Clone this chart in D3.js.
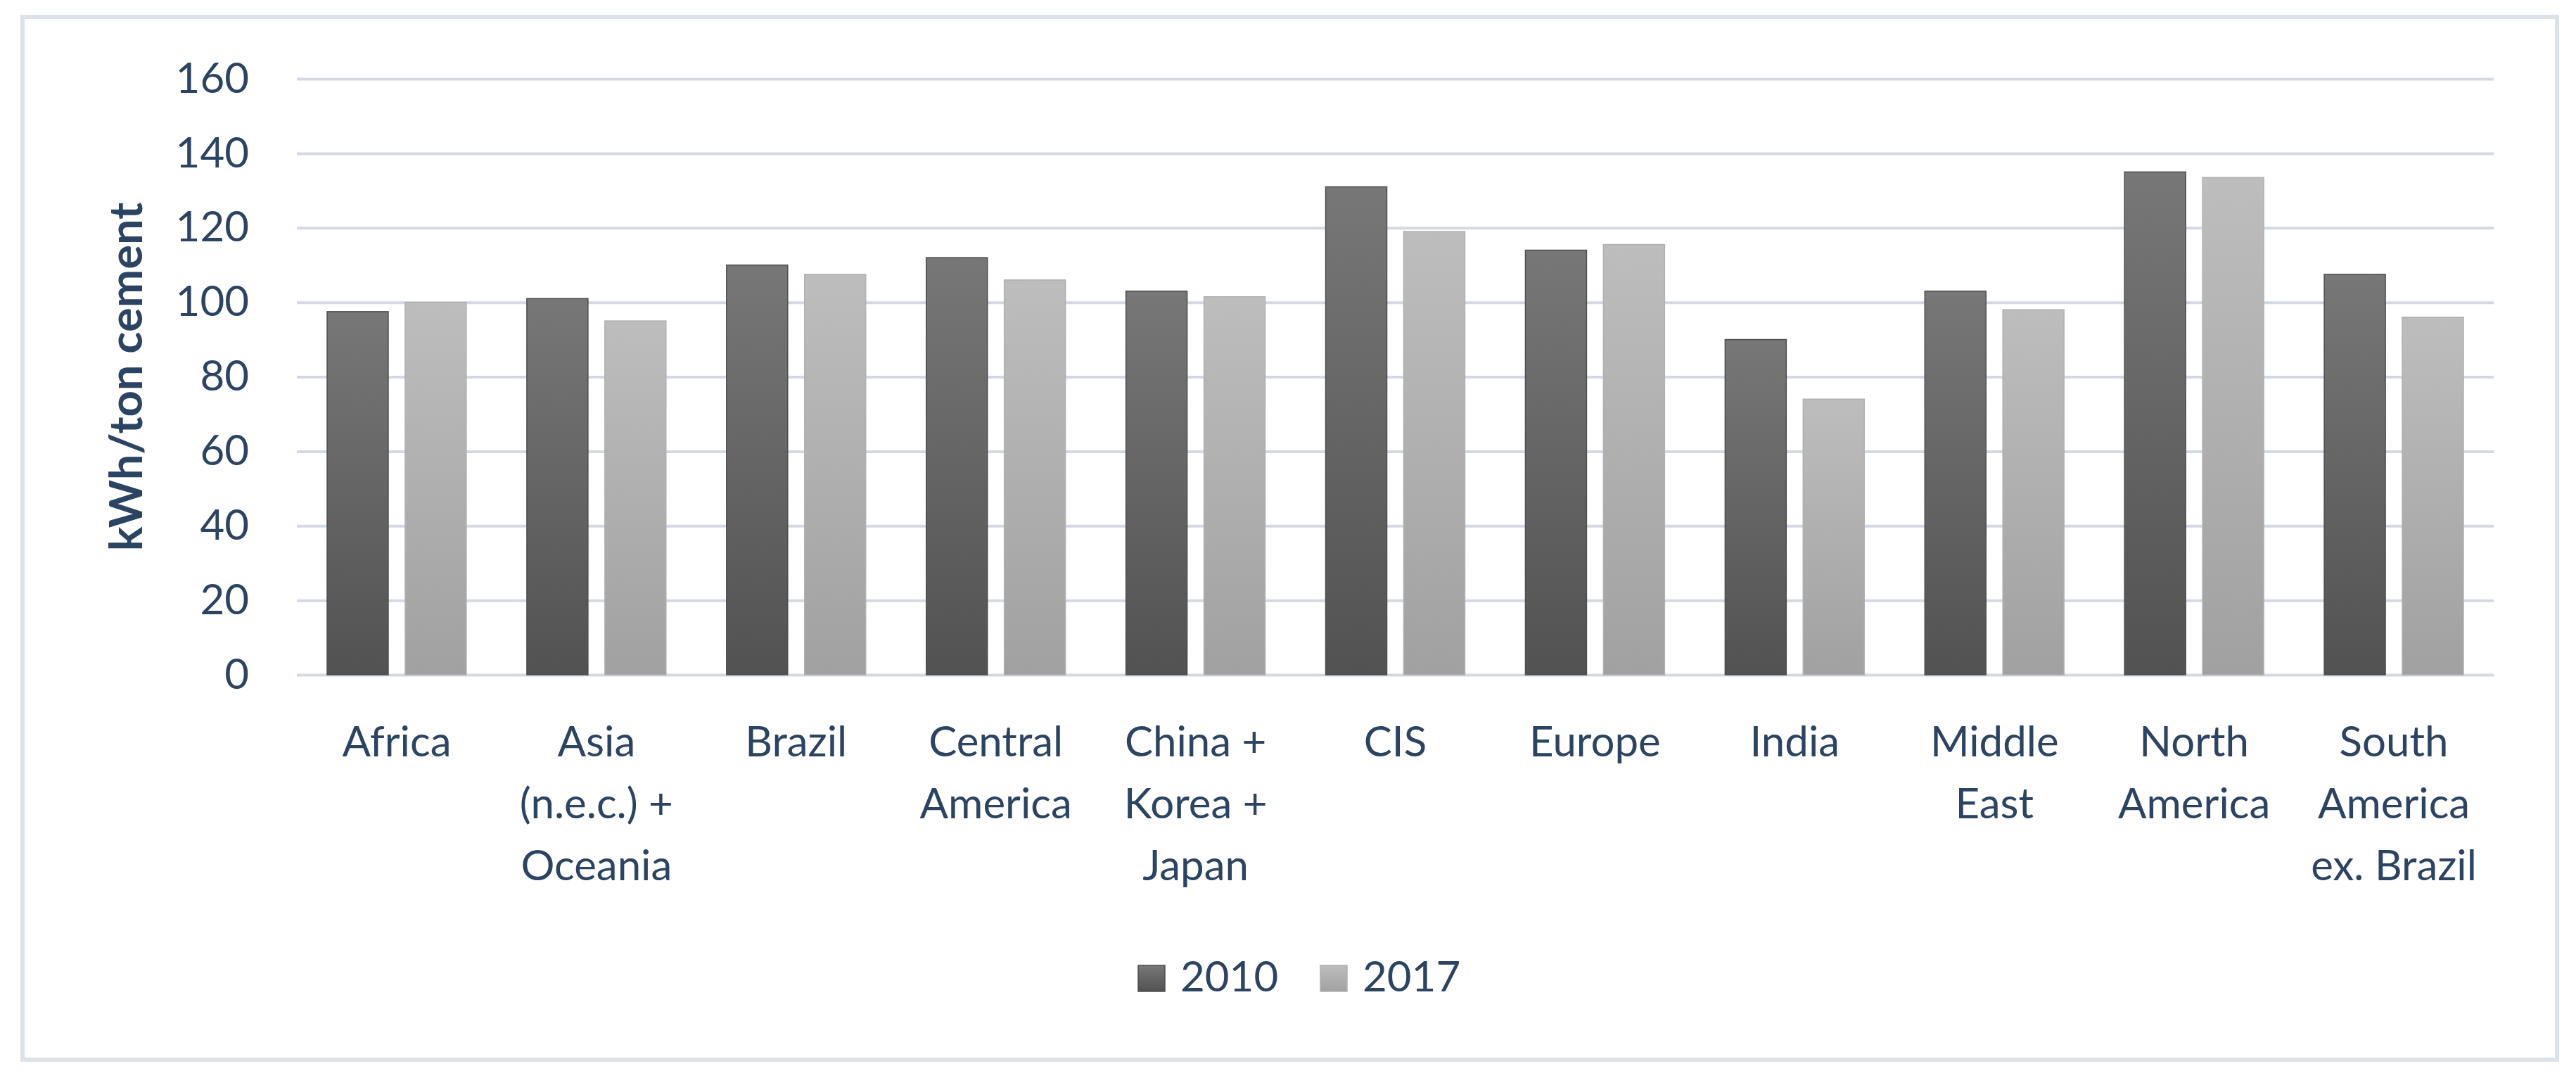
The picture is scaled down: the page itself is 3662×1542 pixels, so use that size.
<!DOCTYPE html>
<html>
<head>
<meta charset="utf-8">
<script src="https://cdn.jsdelivr.net/npm/d3@7"></script>
<style>
  body { margin: 0; background: #fff; }
  svg { display: block; font-family: Lato, "Open Sans", sans-serif; }
</style>
</head>
<body>
<div id="chart"></div>
<script>
// chart data
const categories = ["Africa", "Asia (n.e.c.) + Oceania", "Brazil", "Central America",
  "China + Korea + Japan", "CIS", "Europe", "India", "Middle East",
  "North America", "South America ex. Brazil"];
const categoryLines = [["Africa"], ["Asia", "(n.e.c.) +", "Oceania"], ["Brazil"],
  ["Central", "America"], ["China +", "Korea +", "Japan"], ["CIS"], ["Europe"],
  ["India"], ["Middle", "East"], ["North", "America"], ["South", "America", "ex. Brazil"]];
const seriesNames = ["2010", "2017"];
const values2010 = [97.5, 101, 110, 112, 103, 131, 114, 90, 103, 135, 107.5];
const values2017 = [100, 95, 107.5, 106, 101.5, 119, 115.5, 74, 98, 133.5, 96];
const yTicks = [0, 20, 40, 60, 80, 100, 120, 140, 160];
const yTitle = "kWh/ton cement";

const width = 3662;
const height = 1542;
const margin = {left: 422, right: 117, top: 112, bottom: 583};
const textColor = "#2b4463";

const svg = d3.select("#chart")
  .append("svg")
  .attr("width", width)
  .attr("height", height)
  .attr("viewBox", [0, 0, width, height]);

// gradients for the two series
const defs = svg.append("defs");
const grads = [["g2010", "#777777", "#525252"], ["g2017", "#bdbdbd", "#a1a1a1"]];
grads.forEach(g => {
  const lg = defs.append("linearGradient").attr("id", g[0])
    .attr("x1", 0).attr("y1", 0).attr("x2", 0).attr("y2", 1);
  lg.append("stop").attr("offset", "0%").attr("stop-color", g[1]);
  lg.append("stop").attr("offset", "100%").attr("stop-color", g[2]);
});
const fills = ["url(#g2010)", "url(#g2017)"];
const strokes = ["#4e4e4e", "#b0b0b0"];

// outer frame
svg.append("rect")
  .attr("x", 32).attr("y", 24)
  .attr("width", 3603).attr("height", 1482)
  .attr("fill", "#fff")
  .attr("stroke", "#dce2ea")
  .attr("stroke-width", 6);

// scales
const yScale = d3.scaleLinear()
  .domain([0, 160])
  .range([height - margin.bottom, margin.top]);

const xScale = d3.scaleBand()
  .domain(categories)
  .range([margin.left, width - margin.right])
  .paddingInner(0.303)
  .paddingOuter(0.1515);

const xSub = d3.scaleBand()
  .domain(seriesNames)
  .range([0, xScale.bandwidth()])
  .paddingInner(0.216);

// y axis + gridlines
const yAxis = svg.append("g")
  .attr("transform", `translate(${margin.left},0)`)
  .call(d3.axisLeft(yScale)
    .tickValues(yTicks)
    .tickSize(-(width - margin.left - margin.right))
    .tickPadding(68));
yAxis.select(".domain").remove();
yAxis.selectAll(".tick line")
  .attr("stroke", "#d3d9e3")
  .attr("stroke-width", 4);
yAxis.selectAll(".tick text")
  .attr("fill", textColor)
  .attr("font-size", 60)
  .attr("font-family", "Lato, sans-serif");

// y title
svg.append("text")
  .attr("transform", `translate(202,${(yScale(0) + yScale(160)) / 2}) rotate(-90)`)
  .attr("text-anchor", "middle")
  .attr("fill", textColor)
  .attr("font-size", 65)
  .attr("font-weight", "bold")
  .text(yTitle);

// bars
const rows = categories.map((c, i) => ({cat: c, vals: [values2010[i], values2017[i]]}));
const groups = svg.selectAll(".grp")
  .data(rows)
  .enter()
  .append("g")
  .attr("class", "grp")
  .attr("transform", d => `translate(${xScale(d.cat)},0)`);

groups.selectAll("rect")
  .data(d => d.vals.map((v, j) => ({name: seriesNames[j], v: v, j: j})))
  .enter()
  .append("rect")
  .attr("x", d => xSub(d.name))
  .attr("y", d => yScale(d.v))
  .attr("width", xSub.bandwidth())
  .attr("height", d => yScale(0) - yScale(d.v))
  .attr("fill", d => fills[d.j])
  .attr("stroke", d => strokes[d.j])
  .attr("stroke-width", 1.5);

// x axis labels
const xAxis = svg.append("g")
  .attr("transform", `translate(0,${yScale(0)})`)
  .call(d3.axisBottom(xScale).tickSize(0).tickPadding(0));
xAxis.select(".domain").remove();
xAxis.selectAll(".tick text").each(function(d, i) {
  const t = d3.select(this);
  t.text(null)
    .attr("y", 0)
    .attr("dy", null)
    .attr("fill", textColor)
    .attr("font-size", 60)
    .attr("font-family", "Lato, sans-serif");
  categoryLines[i].forEach((line, k) => {
    t.append("tspan")
      .attr("x", 0)
      .attr("y", 116 + k * 88)
      .text(line);
  });
});

// legend
const legend = svg.append("g").attr("transform", "translate(0,1409)");
const legX = [1618, 1877];
seriesNames.forEach((s, j) => {
  legend.append("rect")
    .attr("x", legX[j]).attr("y", -37)
    .attr("width", 38).attr("height", 37)
    .attr("fill", fills[j])
    .attr("stroke", strokes[j])
    .attr("stroke-width", 1.5);
  legend.append("text")
    .attr("x", legX[j] + 60).attr("y", 0)
    .attr("fill", textColor)
    .attr("font-size", 60)
    .text(s);
});
</script>
</body>
</html>
